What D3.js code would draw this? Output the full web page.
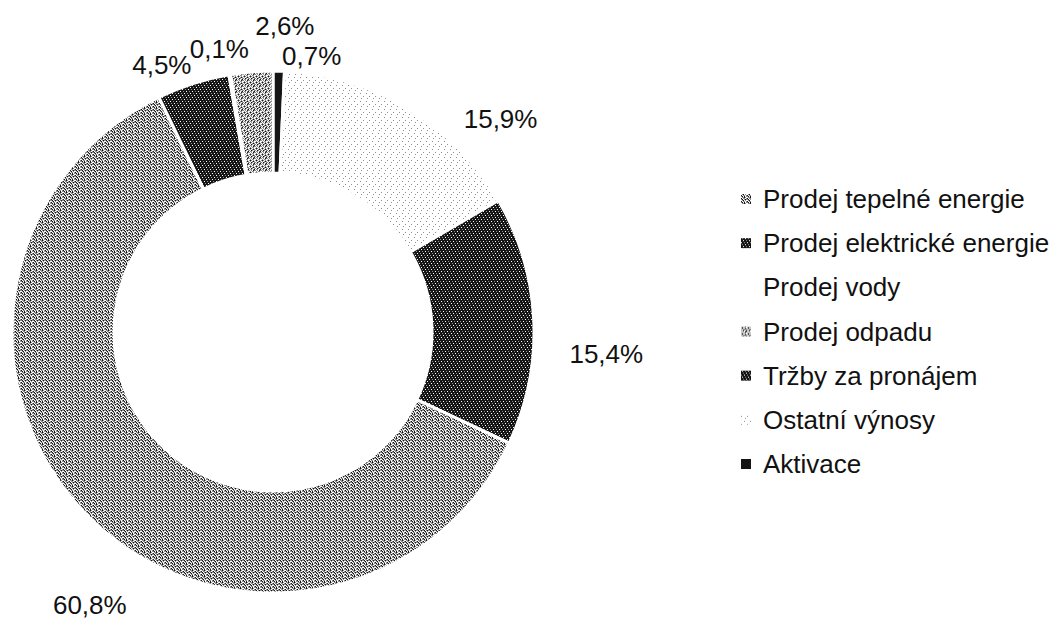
<!DOCTYPE html>
<html>

<head>
    <meta charset="UTF-8">
    <title>Struktura výnosů</title>
    <script src="https://cdn.jsdelivr.net/npm/d3@7"></script>
    <style>
        body { margin: 0; background: #fff; }
        text { font-family: "Liberation Sans", Arial, sans-serif; fill: #111; }
    </style>
</head>

<body>
    <script>
        // legend order
        const categories = ["Prodej tepelné energie", "Prodej elektrické energie", "Prodej vody",
            "Prodej odpadu", "Tržby za pronájem", "Ostatní výnosy", "Aktivace"];
        const shares = [60.8, 15.4, 0.1, 2.6, 4.5, 15.9, 0.7];
        // clockwise order of the ring, starting at 12 o'clock
        const drawOrder = ["Aktivace", "Ostatní výnosy", "Prodej elektrické energie", "Prodej tepelné energie",
            "Tržby za pronájem", "Prodej vody", "Prodej odpadu"];

        const width = 1058;
        const height = 619;
        const cx = 273, cy = 332;
        const outerR = 261, innerR = 159;

        // label placement: shift from slice middle (degrees) and radius
        const labelShift = {
            "Aktivace": [6.7, 279],
            "Ostatní výnosy": [15.7, 312],
            "Prodej elektrické energie": [6.2, 334],
            "Prodej tepelné energie": [-10.8, 329],
            "Tržby za pronájem": [-4.8, 289],
            "Prodej vody": [-1.2, 288],
            "Prodej odpadu": [6.9, 306]
        };

        // scanned-looking textures, one char per pixel
        const textures = {
            "Prodej tepelné energie": ["GKWGKG", "WGKWGW", "KWGGWG", "GKWKWG", "WGGKGW", "KWGGWG"],
            "Prodej elektrické energie": ["KKKKKK", "KGKKWK", "KKKKKK", "KKWKKG", "KKKKKK", "WKKGKK"],
            "Prodej vody": ["W"],
            "Prodej odpadu": ["GWGWKG", "WGWGGW", "GKGWGW", "WGWGKG", "GWKGWG", "WGGWGK"],
            "Tržby za pronájem": ["KKKKKK", "KWKKGK", "KKKKKK", "KKGKKW", "KKKKKK", "GKKWKK"],
            "Ostatní výnosy": ["WWWWWW", "WWWGWW", "WWWWWW", "WWWWWW", "GWWWWW", "WWWWWW", "WWWWGW", "WWWWWW"],
            "Aktivace": ["K"]
        };
        const pixColor = { K: "#151515", G: "#8e8e8e", W: "#ffffff" };

        const fmt = d3.formatLocale({ decimal: ",", thousands: " ", grouping: [3], currency: ["", ""] }).format(".1f");

        const svg = d3.select("body").append("svg")
            .attr("width", width)
            .attr("height", height);

        const defs = svg.append("defs");
        const patId = d3.scaleOrdinal().domain(categories).range(categories.map((c, i) => "tex" + i));

        categories.forEach(c => {
            const rows = textures[c];
            const pat = defs.append("pattern")
                .attr("id", patId(c))
                .attr("patternUnits", "userSpaceOnUse")
                .attr("width", rows[0].length)
                .attr("height", rows.length);
            rows.forEach((row, y) => {
                row.split("").forEach((ch, x) => {
                    pat.append("rect").attr("x", x).attr("y", y)
                        .attr("width", 1).attr("height", 1)
                        .attr("fill", pixColor[ch]);
                });
            });
        });

        const valueOf = d3.scaleOrdinal().domain(categories).range(shares);

        const pie = d3.pie()
            .sort(null)
            .value(d => valueOf(d));

        const arc = d3.arc()
            .innerRadius(innerR)
            .outerRadius(outerR);

        const arcs = pie(drawOrder);

        const g = svg.append("g").attr("transform", `translate(${cx},${cy})`);

        g.selectAll("path")
            .data(arcs)
            .join("path")
            .attr("d", arc)
            .attr("fill", d => `url(#${patId(d.data)})`)
            .attr("stroke", "#fff")
            .attr("stroke-width", 3)
            .attr("stroke-linejoin", "miter");

        const rad = Math.PI / 180;
        g.selectAll("text.pct")
            .data(arcs)
            .join("text")
            .attr("class", "pct")
            .attr("transform", d => {
                const [shift, r] = labelShift[d.data];
                const a = (d.startAngle + d.endAngle) / 2 + shift * rad;
                const p = d3.arc().innerRadius(r).outerRadius(r).centroid({ startAngle: a, endAngle: a });
                return `translate(${p[0]},${p[1]})`;
            })
            .attr("text-anchor", "middle")
            .attr("dy", "0.35em")
            .style("font-size", "26px")
            .text(d => fmt(valueOf(d.data)) + "%");

        // legend
        const legendY = d3.scalePoint().domain(categories).range([199, 464]);
        const legend = svg.append("g").selectAll("g")
            .data(categories)
            .join("g")
            .attr("transform", d => `translate(741,${legendY(d)})`);

        legend.append("rect")
            .attr("x", 0).attr("y", -5)
            .attr("width", 10).attr("height", 10)
            .attr("fill", d => `url(#${patId(d)})`);

        legend.append("text")
            .attr("x", 22)
            .attr("dy", "0.35em")
            .style("font-size", "26px")
            .text(d => d);
    </script>
</body>

</html>
